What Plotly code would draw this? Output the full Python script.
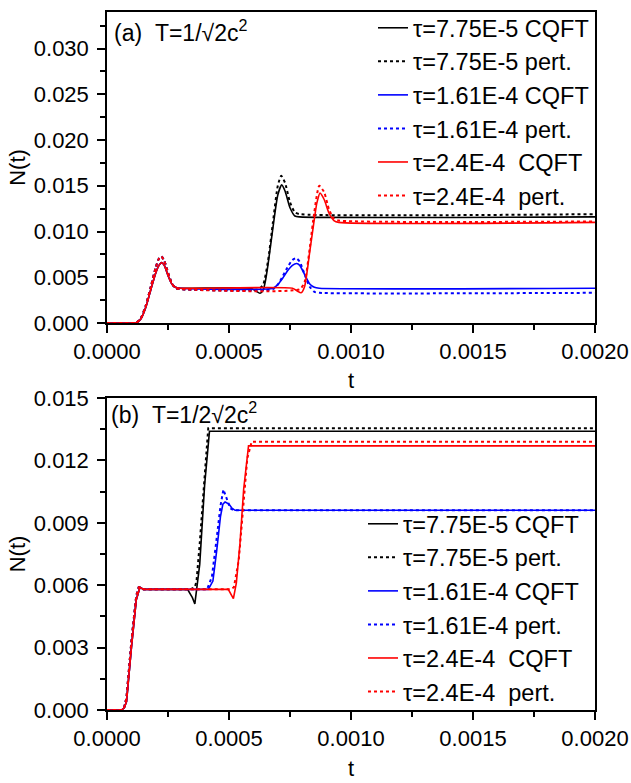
import plotly.graph_objects as go

# ---------------- Panel (a): T = 1/sqrt(2) c^2 ----------------
a_k_cqft_t = [0, 0.0001, 0.00012, 0.00014, 0.00016, 0.00018, 0.0002, 0.000213, 0.000224, 0.000235, 0.00025, 0.000265, 0.00028, 0.0003,
              0.00059, 0.00061, 0.000627, 0.00064, 0.00065, 0.00066, 0.00068, 0.0007, 0.000716, 0.00073, 0.00075, 0.00077, 0.00079, 0.002]
a_k_cqft_n = [0, 0, 0.00002, 0.0005, 0.0018, 0.0037, 0.0055, 0.0063, 0.0066, 0.0063, 0.0052, 0.0043, 0.0039, 0.0038,
              0.0038, 0.0035, 0.00325, 0.0036, 0.0047, 0.0064, 0.0104, 0.0140, 0.0151, 0.0144, 0.0126, 0.0117, 0.0116, 0.0116]

a_k_pert_t = [0, 0.0001, 0.00012, 0.00014, 0.00016, 0.00018, 0.0002, 0.000212, 0.000222, 0.000235, 0.00025, 0.000265, 0.00028, 0.0003,
              0.00062, 0.00064, 0.00066, 0.00068, 0.0007, 0.000714, 0.00073, 0.00075, 0.00077, 0.00079, 0.002]
a_k_pert_n = [0, 0, 0.00002, 0.0006, 0.0020, 0.0040, 0.0061, 0.0070, 0.0073, 0.0068, 0.0055, 0.0044, 0.0038, 0.0037,
              0.0037, 0.0042, 0.0068, 0.0110, 0.0150, 0.0161, 0.0153, 0.0132, 0.0121, 0.0119, 0.0119]

a_b_cqft_t = [0, 0.0001, 0.00012, 0.00014, 0.00016, 0.00018, 0.0002, 0.000213, 0.000224, 0.000235, 0.00025, 0.000265, 0.00028, 0.0003,
              0.00068, 0.0007, 0.00072, 0.00074, 0.00076, 0.000777, 0.00079, 0.00081, 0.00083, 0.00085, 0.00087, 0.002]
a_b_cqft_n = [0, 0, 0.00002, 0.0005, 0.0018, 0.0037, 0.0055, 0.0063, 0.0066, 0.0063, 0.0052, 0.0043, 0.0039, 0.0038,
              0.0038, 0.0042, 0.0049, 0.0057, 0.0063, 0.0065, 0.0063, 0.0053, 0.0043, 0.0039, 0.0038, 0.0038]

a_b_pert_t = [0, 0.0001, 0.00012, 0.00014, 0.00016, 0.00018, 0.0002, 0.000212, 0.000222, 0.000235, 0.00025, 0.000265, 0.00028, 0.0003,
              0.00068, 0.0007, 0.00072, 0.00074, 0.00076, 0.000775, 0.00079, 0.00081, 0.00083, 0.00085, 0.00087, 0.002]
a_b_pert_n = [0, 0, 0.00002, 0.0006, 0.0020, 0.0040, 0.0061, 0.0070, 0.0073, 0.0068, 0.0055, 0.0044, 0.0038, 0.0037,
              0.0037, 0.0042, 0.0051, 0.0061, 0.0069, 0.0071, 0.0067, 0.0053, 0.0040, 0.0034, 0.0033, 0.0033]

a_r_cqft_t = [0, 0.0001, 0.00012, 0.00014, 0.00016, 0.00018, 0.0002, 0.000213, 0.000224, 0.000235, 0.00025, 0.000265, 0.00028, 0.0003,
              0.00076, 0.00078, 0.000795, 0.00081, 0.00083, 0.00085, 0.00086, 0.000873, 0.00089, 0.00091, 0.00093, 0.00095, 0.002]
a_r_cqft_n = [0, 0, 0.00002, 0.0005, 0.0018, 0.0037, 0.0055, 0.0063, 0.0066, 0.0063, 0.0052, 0.0043, 0.0039, 0.0038,
              0.0038, 0.0035, 0.0033, 0.0040, 0.0076, 0.0114, 0.0131, 0.0142, 0.0135, 0.0120, 0.0112, 0.0110, 0.0110]

a_r_pert_t = [0, 0.0001, 0.00012, 0.00014, 0.00016, 0.00018, 0.0002, 0.000212, 0.000222, 0.000235, 0.00025, 0.000265, 0.00028, 0.0003,
              0.00079, 0.00081, 0.00083, 0.00085, 0.00087, 0.00089, 0.00091, 0.00093, 0.00095, 0.002]
a_r_pert_n = [0, 0, 0.00002, 0.0006, 0.0020, 0.0040, 0.0061, 0.0070, 0.0073, 0.0068, 0.0055, 0.0044, 0.0038, 0.0037,
              0.0037, 0.0045, 0.0080, 0.0122, 0.0150, 0.0143, 0.0124, 0.0114, 0.0112, 0.0111]

# ---------------- Panel (b): T = 1/2sqrt(2) c^2 ----------------
b_k_cqft_t = [0, 0.00006, 0.00007, 0.00008, 0.0001, 0.00012, 0.000135, 0.00015, 0.00033, 0.00035, 0.00036, 0.00038, 0.0004, 0.00042, 0.002]
b_k_cqft_n = [0, 0, 0.0001, 0.0004, 0.0030, 0.0053, 0.0059, 0.0058, 0.0058, 0.0054, 0.0051, 0.0070, 0.0108, 0.0134, 0.0134]

b_k_pert_t = [0, 0.00006, 0.00007, 0.00008, 0.0001, 0.00012, 0.00013, 0.00015, 0.00034, 0.00036, 0.000367, 0.00038, 0.0004, 0.000415, 0.002]
b_k_pert_n = [0, 0, 0.0001, 0.0006, 0.0033, 0.0055, 0.0059, 0.0058, 0.0058, 0.0059, 0.0062, 0.0080, 0.0112, 0.01355, 0.01355]

b_b_cqft_t = [0, 0.00006, 0.00007, 0.00008, 0.0001, 0.00012, 0.000135, 0.00015, 0.000415, 0.000434, 0.00045, 0.000465, 0.000475, 0.000484, 0.0005, 0.000512, 0.000525, 0.002]
b_b_cqft_n = [0, 0, 0.0001, 0.0004, 0.0030, 0.0053, 0.0059, 0.0058, 0.0058, 0.0062, 0.0077, 0.0093, 0.0099, 0.0100, 0.0099, 0.0097, 0.0096, 0.0096]

b_b_pert_t = [0, 0.00006, 0.00007, 0.00008, 0.0001, 0.00012, 0.00013, 0.00015, 0.00041, 0.00043, 0.00045, 0.000465, 0.000477, 0.00049, 0.000505, 0.00052, 0.002]
b_b_pert_n = [0, 0, 0.0001, 0.0006, 0.0033, 0.0055, 0.0059, 0.0058, 0.0058, 0.0064, 0.0083, 0.0098, 0.0106, 0.0102, 0.0097, 0.0096, 0.0096]

b_r_cqft_t = [0, 0.00006, 0.00007, 0.00008, 0.0001, 0.00012, 0.000135, 0.00015, 0.000497, 0.000518, 0.00053, 0.000545, 0.00056, 0.00058, 0.002]
b_r_cqft_n = [0, 0, 0.0001, 0.0004, 0.0030, 0.0053, 0.0059, 0.0058, 0.0058, 0.00535, 0.0061, 0.0080, 0.0106, 0.0127, 0.0127]

b_r_pert_t = [0, 0.00006, 0.00007, 0.00008, 0.0001, 0.00012, 0.00013, 0.00015, 0.000505, 0.00052, 0.00054, 0.00056, 0.000575, 0.000593, 0.002]
b_r_pert_n = [0, 0, 0.0001, 0.0006, 0.0033, 0.0055, 0.0059, 0.0058, 0.0058, 0.0059, 0.0072, 0.0100, 0.0121, 0.0129, 0.0129]

NB = "\u00a0"
legend_labels = ["τ=7.75E-5 CQFT", "τ=7.75E-5 pert.", "τ=1.61E-4 CQFT",
                 "τ=1.61E-4 pert.", "τ=2.4E-4" + NB + NB + "CQFT", "τ=2.4E-4" + NB + NB + "pert."]
colors = ["#000000", "#000000", "#0000FF", "#0000FF", "#FF0000", "#FF0000"]
dashes = ["solid", "dot", "solid", "dot", "solid", "dot"]
panel_titles = ["(a)" + NB + NB + "T=1/√2c<sup>2</sup>", "(b)" + NB + NB + "T=1/2√2c<sup>2</sup>"]

x_ticks = [0.0, 0.0005, 0.0010, 0.0015, 0.0020]
ya_ticks = [0.000, 0.005, 0.010, 0.015, 0.020, 0.025, 0.030]
yb_ticks = [0.000, 0.003, 0.006, 0.009, 0.012, 0.015]

panel_a = [(a_k_cqft_t, a_k_cqft_n), (a_k_pert_t, a_k_pert_n), (a_b_cqft_t, a_b_cqft_n),
           (a_b_pert_t, a_b_pert_n), (a_r_cqft_t, a_r_cqft_n), (a_r_pert_t, a_r_pert_n)]
panel_b = [(b_k_cqft_t, b_k_cqft_n), (b_k_pert_t, b_k_pert_n), (b_b_cqft_t, b_b_cqft_n),
           (b_b_pert_t, b_b_pert_n), (b_r_cqft_t, b_r_cqft_n), (b_r_pert_t, b_r_pert_n)]

FONT = "Arial, Liberation Sans, sans-serif"
W, H = 631, 783
ML, MR, MT, MB = 107, 36, 12, 73
PH = H - MT - MB


def py(pix):  # pixel y -> paper y
    return (H - MB - pix) / PH


def px(pix):  # pixel x -> paper x
    return (pix - ML) / (W - ML - MR)


fig = go.Figure()
for i, (t, n) in enumerate(panel_a):
    fig.add_trace(go.Scatter(x=t, y=n, mode="lines", name=legend_labels[i],
                             line=dict(color=colors[i], dash=dashes[i], width=1.6 if dashes[i] == "solid" else 2.0,
                                       shape="spline", smoothing=0.6),
                             xaxis="x", yaxis="y", legend="legend", legendgroup="a%d" % i))
for i, (t, n) in enumerate(panel_b):
    fig.add_trace(go.Scatter(x=t, y=n, mode="lines", name=legend_labels[i],
                             line=dict(color=colors[i], dash=dashes[i], width=1.6 if dashes[i] == "solid" else 2.0),
                             xaxis="x2", yaxis="y2", legend="legend2", legendgroup="b%d" % i))

axis_common = dict(showline=True, linecolor="black", linewidth=1.5, mirror=True,
                   ticks="outside", ticklen=8, tickwidth=1.5, tickcolor="black",
                   showgrid=False, zeroline=False,
                   tickfont=dict(family=FONT, size=22, color="black"),
                   title_font=dict(family=FONT, size=22, color="black"))

top_bottom = py(323)
bot_top = py(398)
LEG_FONT = dict(family=FONT, size=23.5, color="black")

fig.update_layout(
    width=W, height=H, margin=dict(l=ML, r=MR, t=MT, b=MB, autoexpand=False),
    paper_bgcolor="white", plot_bgcolor="white",
    font=dict(family=FONT, size=22, color="black"),
    xaxis=dict(domain=[0, 1], anchor="y", range=[0, 0.002], tickvals=x_ticks, tickformat=".4f",
               minor=dict(dtick=0.00025, tick0=0, ticklen=5, ticks="outside", tickwidth=1.5, tickcolor="black", showgrid=False),
               title=dict(text="t", standoff=9), **axis_common),
    yaxis=dict(domain=[top_bottom, 1], anchor="x", range=[0, 0.034], tickvals=ya_ticks, tickformat=".3f",
               ticklabelstandoff=4,
               minor=dict(dtick=0.0025, tick0=0, ticklen=5, ticks="outside", tickwidth=1.5, tickcolor="black", showgrid=False),
               title=dict(text="N(t)", standoff=2), **axis_common),
    xaxis2=dict(domain=[0, 1], anchor="y2", range=[0, 0.002], tickvals=x_ticks, tickformat=".4f",
                minor=dict(dtick=0.00025, tick0=0, ticklen=5, ticks="outside", tickwidth=1.5, tickcolor="black", showgrid=False),
                title=dict(text="t", standoff=10), **axis_common),
    yaxis2=dict(domain=[0, bot_top], anchor="x2", range=[0, 0.015], tickvals=yb_ticks, tickformat=".3f",
                ticklabelstandoff=4,
                minor=dict(dtick=0.0015, tick0=0, ticklen=5, ticks="outside", tickwidth=1.5, tickcolor="black", showgrid=False),
                title=dict(text="N(t)", standoff=2), **axis_common),
    legend=dict(x=px(373), y=py(6), xanchor="left", yanchor="top", bgcolor="rgba(0,0,0,0)",
                font=LEG_FONT, tracegroupgap=4.2, traceorder="normal"),
    legend2=dict(x=px(363), y=py(502), xanchor="left", yanchor="top", bgcolor="rgba(0,0,0,0)",
                 font=LEG_FONT, tracegroupgap=4.2, traceorder="normal"),
    showlegend=True,
    annotations=[
        dict(text=panel_titles[0], x=px(112), y=py(31), xref="paper", yref="paper",
             xanchor="left", yanchor="middle", showarrow=False, font=dict(family=FONT, size=23, color="black")),
        dict(text=panel_titles[1], x=px(109), y=py(413), xref="paper", yref="paper",
             xanchor="left", yanchor="middle", showarrow=False, font=dict(family=FONT, size=23, color="black")),
    ],
)

fig.write_html("out.html")
